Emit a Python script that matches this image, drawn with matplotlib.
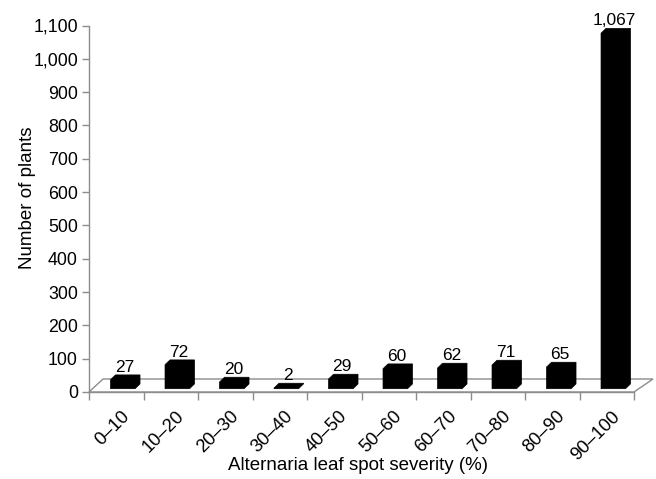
import matplotlib
matplotlib.use("Agg")
import matplotlib.pyplot as plt
from matplotlib.patches import Polygon
from matplotlib.ticker import FuncFormatter, FixedLocator
from matplotlib.transforms import ScaledTranslation

categories = ["0–10", "10–20", "20–30", "30–40", "40–50", "50–60",
              "60–70", "70–80", "80–90", "90–100"]
counts = [27, 72, 20, 2, 29, 60, 62, 71, 65, 1067]
y_ticks = list(range(0, 1101, 100))

plt.rcParams['font.family'] = ['Liberation Sans', 'DejaVu Sans']
FS = 12.8
GRAY = '#8c8c8c'

fig = plt.figure(figsize=(6.56, 4.79), dpi=100)
ax = fig.add_axes([89/656, 1-392/479, 545/656, 366.5/479])
ax.set_xlim(0, len(categories))
ax.set_ylim(0, 1100)

# 3D-ish geometry (in data units)
px_x = 545/len(categories)      # pixels per category
px_y = 366.5/1100               # pixels per unit
floor_dxL = 14/px_x
floor_dxR = 19/px_x
floor_dy = 13/px_y
bar_x0 = 0.395
bar_w = 24.5/px_x
bar_ddx = 5/px_x
bar_ddy = 4.8/px_y
bar_base = 3.3/px_y

# floor outline
floor = Polygon([(0, 0), (floor_dxL, floor_dy),
                 (len(categories)+floor_dxR, floor_dy),
                 (len(categories), 0)], closed=True, fill=False,
                edgecolor=GRAY, lw=1.0, clip_on=False, zorder=1)
ax.add_patch(floor)

for i, v in enumerate(counts):
    xl = i + bar_x0
    xr = xl + bar_w
    b = bar_base
    t = bar_base + v
    pts = [(xl, b), (xl, t), (xl+bar_ddx, t+bar_ddy), (xr+bar_ddx, t+bar_ddy),
           (xr+bar_ddx, b+bar_ddy), (xr, b)]
    ax.add_patch(Polygon(pts, closed=True, facecolor='black', edgecolor='black',
                         lw=0.5, clip_on=False, zorder=3))
    ax.annotate(f"{v:,}", xy=((xl+xr)/2 + bar_ddx*0.3, t+bar_ddy),
                xytext=(0, 3), textcoords='offset pixels',
                ha='center', va='baseline', fontsize=12.5, annotation_clip=False)

for s in ['top', 'right']:
    ax.spines[s].set_visible(False)
ax.spines['left'].set_color(GRAY)
ax.spines['bottom'].set_color(GRAY)
ax.spines['left'].set_linewidth(1.0)
ax.spines['bottom'].set_linewidth(1.0)
ax.patch.set_visible(False)

ax.set_yticks(y_ticks)
ax.yaxis.set_major_formatter(FuncFormatter(lambda v, p: f"{int(v):,}"))
ax.tick_params(axis='y', length=5, width=1.0, color=GRAY, pad=3, labelsize=FS)

ax.set_xticks([i + 0.5 for i in range(len(categories))])
ax.set_xticklabels(categories, rotation=45, ha='right', va='top',
                   rotation_mode='anchor', fontsize=13.2)
ax.tick_params(axis='x', which='major', length=0, pad=11.5)
ax.xaxis.set_minor_locator(FixedLocator(list(range(len(categories)+1))))
ax.tick_params(axis='x', which='minor', length=6, width=1.0, color=GRAY)
for lbl in ax.get_xticklabels():
    lbl.set_transform(lbl.get_transform() + ScaledTranslation(0.045, 0, fig.dpi_scale_trans))

ax.set_xlabel("Alternaria leaf spot severity (%)", fontsize=13.5, va='center')
ax.xaxis.set_label_coords(0.5 - 3/545, -(466-392)/366.5)
ax.set_ylabel("Number of plants", fontsize=13.5, va='center')
ax.yaxis.set_label_coords((27-89)/545, (392-198)/366.5)

fig.savefig("out.png", dpi=100)
